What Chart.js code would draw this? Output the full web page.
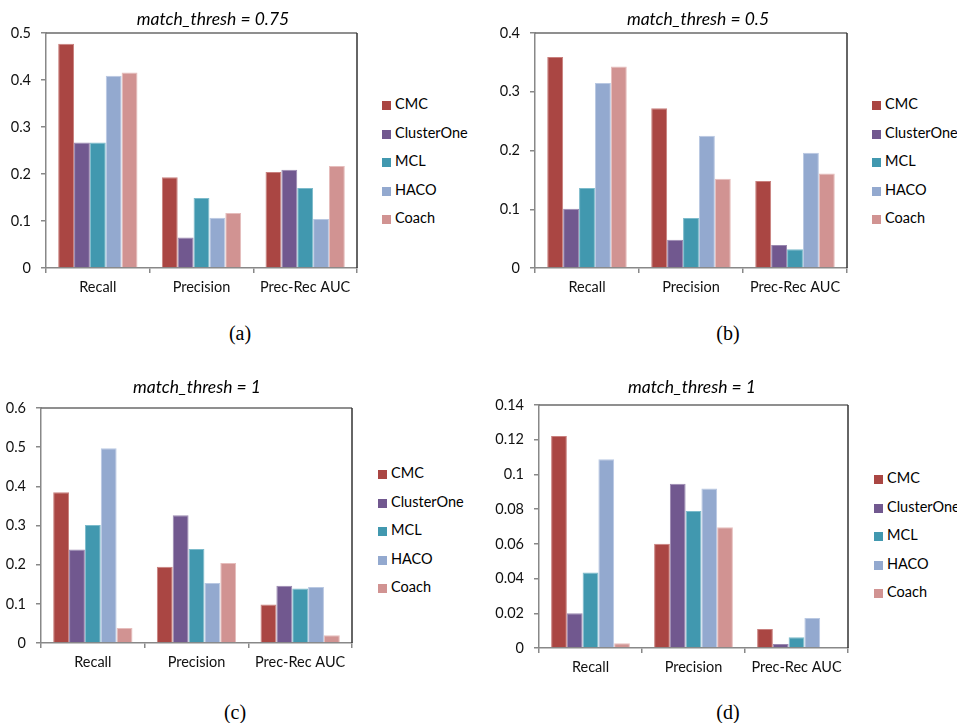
<!DOCTYPE html>
<html>
<head>
<meta charset="utf-8">
<script src="https://cdn.jsdelivr.net/npm/chart.js@4"></script>
<style>
  body { margin: 0; background: #fff; width: 957px; height: 723px; position: relative; overflow: hidden; }
  canvas { position: absolute; }
  .title { position: absolute; font: italic 17.5px Lato; color: #000; transform: translate(-50%, -50%); white-space: nowrap; }
  .caption { position: absolute; font: 20px "Liberation Serif"; color: #000; transform: translate(-50%, -50%); }
  .legend { position: absolute; font: 14.5px Lato; color: #000; }
  .legend div { position: absolute; white-space: nowrap; line-height: 16px; }
  .legend span { display: inline-block; width: 9px; height: 9px; margin-right: 4px; vertical-align: -1px; }
</style>
</head>
<body>
<script>
// data
const categories = ['Recall', 'Precision', 'Prec-Rec AUC'];
const methods = ['CMC', 'ClusterOne', 'MCL', 'HACO', 'Coach'];
const titles = ['match_thresh = 0.75', 'match_thresh = 0.5', 'match_thresh = 1', 'match_thresh = 1'];
const captions = ['(a)', '(b)', '(c)', '(d)'];
const yMaxes = [0.5, 0.4, 0.6, 0.14];
const ySteps = [0.1, 0.1, 0.1, 0.02];

// one row per method, one column per category
const valuesA = [
    [0.477, 0.193, 0.204],
    [0.267, 0.065, 0.209],
    [0.267, 0.149, 0.170],
    [0.409, 0.107, 0.104],
    [0.416, 0.117, 0.217]
];
const valuesB = [
    [0.359, 0.272, 0.148],
    [0.101, 0.048, 0.039],
    [0.136, 0.085, 0.032],
    [0.315, 0.225, 0.196],
    [0.343, 0.152, 0.161]
];
const valuesC = [
    [0.385, 0.195, 0.098],
    [0.239, 0.326, 0.146],
    [0.301, 0.240, 0.139],
    [0.497, 0.153, 0.143],
    [0.038, 0.204, 0.020]
];
const valuesD = [
    [0.1221, 0.0600, 0.0110],
    [0.0200, 0.0946, 0.0023],
    [0.0435, 0.0790, 0.0062],
    [0.1087, 0.0919, 0.0173],
    [0.0027, 0.0696, 0]
];
const allValues = [valuesA, valuesB, valuesC, valuesD];

const colors = ['#AA4643', '#71588F', '#4198AF', '#93A9CF', '#D19392'];
const edges = ['#C9807E', '#9A88B0', '#7CBBCB', '#B9C8E2', '#E6BDBC'];

// layout of each panel: origin, plot box, title, legend, caption
const panels = [
    { ox: 0,   oy: 0,   L: 46,  R: 357, T: 33,  B: 268, tx: 213, ty: 18,  lx: 382, ly: 104, cx: 240, cy: 333 },
    { ox: 480, oy: 0,   L: 535, R: 847, T: 33,  B: 268, tx: 698, ty: 18,  lx: 872, ly: 104, cx: 728, cy: 333 },
    { ox: 0,   oy: 370, L: 41,  R: 352, T: 408, B: 643, tx: 197, ty: 386, lx: 378, ly: 473, cx: 235, cy: 712 },
    { ox: 480, oy: 370, L: 539, R: 848, T: 405, B: 648, tx: 692, ty: 386, lx: 874, ly: 478, cx: 728, cy: 712 }
];

// top and right edge of the plot area
const framePlugin = {
    id: 'frame',
    afterDraw(chart) {
        const a = chart.chartArea;
        const ctx = chart.ctx;
        ctx.save();
        ctx.lineWidth = 1.5;
        ctx.strokeStyle = '#6a6a6a';
        ctx.beginPath();
        ctx.moveTo(a.left, a.top);
        ctx.lineTo(a.right, a.top);
        ctx.stroke();
        ctx.strokeStyle = '#333';
        ctx.beginPath();
        ctx.moveTo(a.right, a.top);
        ctx.lineTo(a.right, a.bottom);
        ctx.stroke();
        ctx.restore();
    }
};

panels.forEach((p, i) => {
    const w = p.R - p.ox + 2;
    const h = p.B - p.oy + 34;
    const canvas = document.createElement('canvas');
    canvas.style.left = p.ox + 'px';
    canvas.style.top = p.oy + 'px';
    canvas.style.width = w + 'px';
    canvas.style.height = h + 'px';
    canvas.width = w;
    canvas.height = h;
    document.body.appendChild(canvas);

    new Chart(canvas, {
        type: 'bar',
        data: {
            labels: categories,
            datasets: methods.map((m, k) => ({
                label: m,
                data: allValues[i][k],
                backgroundColor: colors[k],
                borderColor: edges[k],
                borderWidth: { top: 1, left: 1, right: 1, bottom: 0 },
                categoryPercentage: 0.765,
                barPercentage: 1.0
            }))
        },
        options: {
            responsive: false,
            animation: false,
            layout: { padding: { top: p.T - p.oy, right: 2, left: 0, bottom: 0 } },
            plugins: { legend: { display: false }, tooltip: { enabled: false } },
            scales: {
                x: {
                    afterFit: s => { s.height = 34; },
                    border: { color: '#888', width: 1.5 },
                    grid: { display: true, drawOnChartArea: false, offset: true, tickLength: 5, color: '#888', lineWidth: 1.5 },
                    ticks: { color: '#111', font: { family: 'Lato', size: 14.5 }, padding: 6, maxRotation: 0 }
                },
                y: {
                    min: 0,
                    max: yMaxes[i],
                    afterFit: s => { s.width = p.L - p.ox; },
                    border: { color: '#888', width: 1.5 },
                    grid: { display: true, drawOnChartArea: false, tickLength: 5, color: '#888', lineWidth: 1.5 },
                    ticks: {
                        stepSize: ySteps[i],
                        color: '#111',
                        font: { family: 'Lato', size: 14.5 },
                        padding: 10,
                        callback: v => String(+v.toFixed(4))  // "0.1" not "0.10"
                    }
                }
            }
        },
        plugins: [framePlugin]
    });

    const t = document.createElement('div');
    t.className = 'title';
    t.style.left = p.tx + 'px';
    t.style.top = p.ty + 'px';
    t.textContent = titles[i];
    document.body.appendChild(t);

    const c = document.createElement('div');
    c.className = 'caption';
    c.style.left = p.cx + 'px';
    c.style.top = p.cy + 'px';
    c.textContent = captions[i];
    document.body.appendChild(c);

    const lg = document.createElement('div');
    lg.className = 'legend';
    lg.style.left = p.lx + 'px';
    lg.style.top = p.ly + 'px';
    methods.forEach((m, k) => {
        const row = document.createElement('div');
        row.style.top = (k * 28.5 - 8) + 'px';
        row.innerHTML = '<span style="background:' + colors[k] + '"></span>' + m;
        lg.appendChild(row);
    });
    document.body.appendChild(lg);
});
</script>
</body>
</html>
